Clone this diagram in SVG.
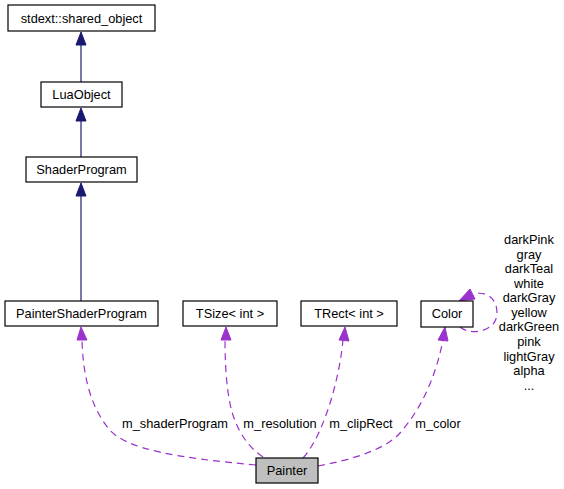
<svg xmlns="http://www.w3.org/2000/svg" width="564" height="489" viewBox="0 0 564 489">
<style>
text{font-family:"Liberation Sans",Arial,sans-serif;font-size:12.8px;fill:#000;text-anchor:middle}
.box{fill:#fff;stroke:#000;stroke-width:1.2}
.inh{fill:none;stroke:#4b4b93;stroke-width:1.5}
.ahi{fill:#191970;stroke:#191970}
.use{fill:none;stroke:#9a32cd;stroke-width:1.2;stroke-dasharray:7,5}
.ahu{fill:#9a32cd;stroke:#9a32cd}
</style>
<rect width="564" height="489" fill="#fff"/>
<g id="connectors">
<path class="inh" d="M81,82 V45"/>
<polygon class="ahi" points="81,32 76,45 86,45"/>
<path class="inh" d="M81,157 V121"/>
<polygon class="ahi" points="81,108 76,121 86,121"/>
<path class="inh" d="M81,301 V196"/>
<polygon class="ahi" points="81,183 76,196 86,196"/>
<path class="use" d="M256,465 C180,458 125,450 108,428 C90,405 83,375 82,340"/>
<polygon class="ahu" points="81,327 77,340 87,340"/>
<path class="use" d="M263,457 C248,447 238,432 232,412 C226,390 225,360 225,340"/>
<polygon class="ahu" points="226,327 221,340 231,340"/>
<path class="use" d="M303,458 C315,445 325,420 331,400 C337,380 341,360 343,340"/>
<polygon class="ahu" points="345,327 339,340 349,341"/>
<path class="use" d="M318,466 C350,460 385,450 400,433 C420,410 435,380 443,340"/>
<polygon class="ahu" points="445,327 438,340 448,341"/>
<path class="use" d="M460,327 C470,336 497,332 497,313 C497,297 485,291 473,294"/>
<polygon class="ahu" points="459,301 470,289 475,299"/>
<text x="175" y="428">m_shaderProgram</text>
<text x="280" y="428">m_resolution</text>
<text x="361" y="428">m_clipRect</text>
<text x="438" y="428">m_color</text>
<text x="529" y="244">darkPink</text>
<text x="529" y="259">gray</text>
<text x="529" y="273">darkTeal</text>
<text x="529" y="288">white</text>
<text x="529" y="302">darkGray</text>
<text x="529" y="317">yellow</text>
<text x="529" y="331">darkGreen</text>
<text x="529" y="346">pink</text>
<text x="529" y="361">lightGray</text>
<text x="529" y="375">alpha</text>
<text x="529" y="390">...</text>
</g>
<g id="shared_object"><rect class="box" x="8" y="5" width="147" height="26"/><text x="81.5" y="22.5">stdext::shared_object</text></g>
<g id="LuaObject"><rect class="box" x="41" y="82" width="81" height="25"/><text x="81.5" y="99">LuaObject</text></g>
<g id="ShaderProgram"><rect class="box" x="26" y="157" width="111" height="25"/><text x="81.5" y="174">ShaderProgram</text></g>
<g id="PainterShaderProgram"><rect class="box" x="5" y="301" width="153" height="25"/><text x="81.5" y="318">PainterShaderProgram</text></g>
<g id="TSize"><rect class="box" x="183" y="301" width="94" height="25"/><text x="230" y="318">TSize&lt; int &gt;</text></g>
<g id="TRect"><rect class="box" x="301" y="301" width="96" height="25"/><text x="349" y="318">TRect&lt; int &gt;</text></g>
<g id="Color"><rect class="box" x="421" y="301" width="52" height="26"/><text x="447" y="318">Color</text></g>
<g id="Painter"><rect x="256" y="458" width="62" height="25" fill="#bfbfbf" stroke="#000" stroke-width="1.2"/><text x="287" y="475">Painter</text></g>
</svg>
